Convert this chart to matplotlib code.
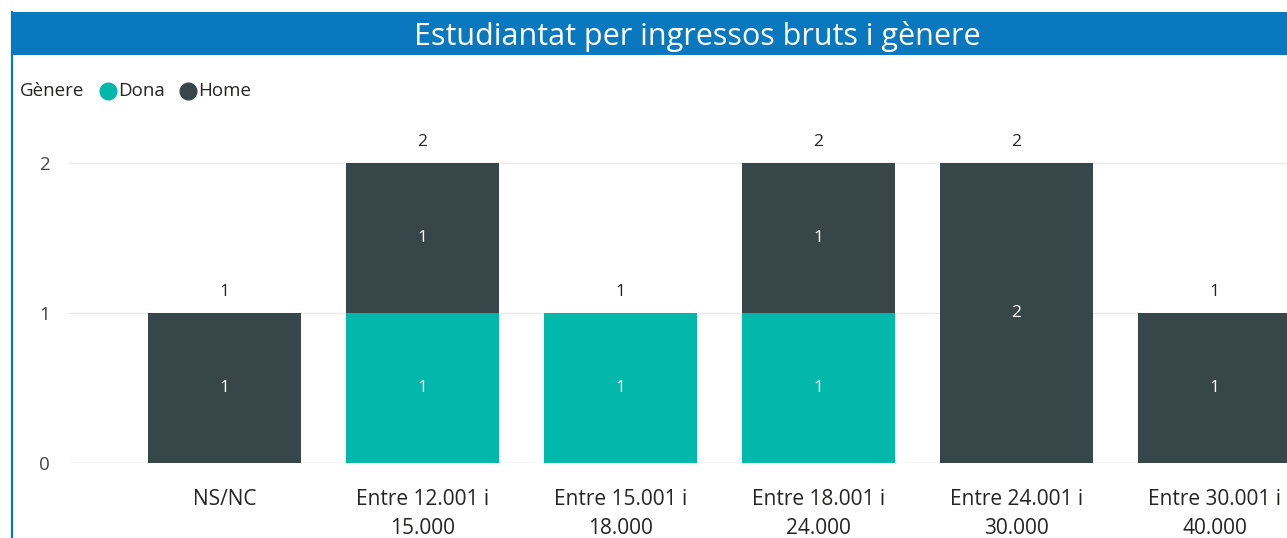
import matplotlib.pyplot as plt
import numpy as np
from matplotlib.patches import Rectangle
from matplotlib.lines import Line2D

plt.rcParams['font.family'] = ['Open Sans', 'DejaVu Sans']

# dades
categories = ["NS/NC", "Entre 12.001 i\n15.000", "Entre 15.001 i\n18.000",
              "Entre 18.001 i\n24.000", "Entre 24.001 i\n30.000", "Entre 30.001 i\n40.000"]
dona = [0, 1, 1, 1, 0, 0]
home = [1, 1, 0, 1, 2, 1]
series_names = ["Dona", "Home"]

col_dona = "#01B8AA"
col_home = "#374649"
blue = "#0A78BE"

W, H = 1287, 538
fig = plt.figure(figsize=(W / 100, H / 100), dpi=100)

# marc i barra de títol
fig.add_artist(Rectangle((11 / W, (H - 55) / H), 1 - 11 / W, 43 / H,
                         transform=fig.transFigure, color=blue, lw=0))
fig.add_artist(Line2D([12 / W, 12 / W], [0, (H - 12) / H], transform=fig.transFigure,
                      color=blue, lw=1.6))
fig.text(697 / W, (H - 36) / H, "Estudiantat per ingressos bruts i gènere",
         color="white", fontsize=22, ha="center", va="center")

# llegenda
fig.text(20 / W, (H - 91) / H, "Gènere", fontsize=13.5, color="#252423",
         ha="left", va="center")
for cx, col, name, tx in [(108, col_dona, series_names[0], 118), (188, col_home, series_names[1], 198)]:
    fig.add_artist(Line2D([cx / W], [(H - 91) / H], transform=fig.transFigure,
                          marker="o", markersize=12, color=col, lw=0))
    fig.text(tx / W, (H - 91) / H, name, fontsize=13.5, color="#252423",
             ha="left", va="center")

ax = fig.add_axes([69 / W, (H - 463) / H, (W - 69) / W, (463 - 140) / H])
x = np.arange(len(categories))
dona = np.array(dona)
home = np.array(home)
wbar = 153 / 198
ax.bar(x, dona, width=wbar, color=col_dona, zorder=2)
ax.bar(x, home, width=wbar, bottom=dona, color=col_home, zorder=2)

for i in range(len(categories)):
    if dona[i] > 0:
        ax.text(x[i], dona[i] / 2, str(dona[i]), color="white", ha="center", va="center", fontsize=12.5)
    if home[i] > 0:
        ax.text(x[i], dona[i] + home[i] / 2, str(home[i]), color="white", ha="center", va="center", fontsize=12.5)
    tot = dona[i] + home[i]
    ax.text(x[i], tot + 0.14, str(tot), color="#252423", ha="center", va="center", fontsize=12.5)

ax.set_xlim(-0.7854, 5.366)
ax.set_ylim(0, (463 - 140) / 150)
ax.set_yticks([0, 1, 2])
ax.set_xticks(x)
ax.set_xticklabels(categories, fontsize=15, color="#252423", linespacing=1.55)
ax.tick_params(axis="x", length=0, pad=18.5)
ax.tick_params(axis="y", length=0, pad=14, labelsize=13.5, labelcolor="#444444")
ax.grid(axis="y", color="#EAEAEA", lw=1, zorder=0)
for s in ax.spines.values():
    s.set_visible(False)
ax.axhline(0, color="#EAEAEA", lw=1, zorder=1)

fig.savefig("out.png", dpi=100)
